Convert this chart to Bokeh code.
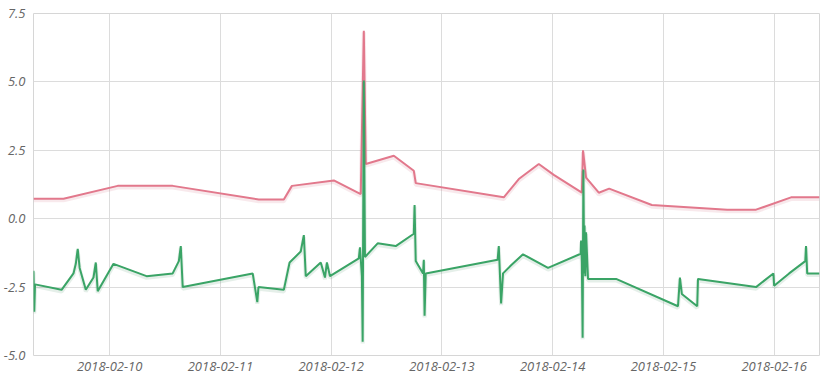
import pandas as pd
from bokeh.plotting import figure
from bokeh.models import ColumnDataSource, FixedTicker, DatetimeTickFormatter, NumeralTickFormatter, Range1d
from bokeh.transform import dodge
from bokeh.embed import file_html
from bokeh.resources import INLINE

# ---- data ----
red_times = ["2018-02-09 07:30", "2018-02-09 14:00", "2018-02-10 01:45", "2018-02-10 13:40",
             "2018-02-11 08:20", "2018-02-11 13:45", "2018-02-11 15:30", "2018-02-12 00:35",
             "2018-02-12 06:25", "2018-02-12 07:05", "2018-02-12 07:30", "2018-02-12 13:35",
             "2018-02-12 17:55", "2018-02-12 18:20", "2018-02-13 13:25", "2018-02-13 16:40",
             "2018-02-13 21:00", "2018-02-14 00:15", "2018-02-14 06:20", "2018-02-14 06:35",
             "2018-02-14 07:15", "2018-02-14 10:00", "2018-02-14 12:15", "2018-02-14 21:30",
             "2018-02-15 13:50", "2018-02-15 20:05", "2018-02-16 03:40", "2018-02-16 09:50"]
red_values = [0.73, 0.73, 1.2, 1.2, 0.7, 0.7, 1.2, 1.4, 0.9, 6.87, 2.0, 2.3, 1.75, 1.3,
              0.78, 1.45, 2.0, 1.6, 0.95, 2.5, 1.5, 0.95, 1.1, 0.5, 0.33, 0.33, 0.78, 0.78]

green_times = ["2018-02-09 07:30", "2018-02-09 07:40", "2018-02-09 07:50", "2018-02-09 13:35",
               "2018-02-09 16:10", "2018-02-09 16:40", "2018-02-09 17:05", "2018-02-09 17:30",
               "2018-02-09 18:50", "2018-02-09 20:30", "2018-02-09 21:00", "2018-02-09 21:25",
               "2018-02-10 00:50", "2018-02-10 08:00", "2018-02-10 13:40", "2018-02-10 15:00",
               "2018-02-10 15:25", "2018-02-10 15:50", "2018-02-11 07:00", "2018-02-11 08:00",
               "2018-02-11 08:15", "2018-02-11 13:45", "2018-02-11 15:00", "2018-02-11 17:25",
               "2018-02-11 18:05", "2018-02-11 18:30", "2018-02-11 21:45", "2018-02-11 22:40",
               "2018-02-11 23:05", "2018-02-11 23:45", "2018-02-12 06:00", "2018-02-12 06:15",
               "2018-02-12 06:40", "2018-02-12 06:50", "2018-02-12 07:05", "2018-02-12 07:20",
               "2018-02-12 10:05", "2018-02-12 14:00", "2018-02-12 17:55", "2018-02-12 18:05",
               "2018-02-12 18:20", "2018-02-12 19:55", "2018-02-12 20:05", "2018-02-12 20:15",
               "2018-02-12 20:30", "2018-02-13 12:05", "2018-02-13 12:20", "2018-02-13 12:50",
               "2018-02-13 13:15", "2018-02-13 15:00", "2018-02-13 17:35", "2018-02-13 23:00",
               "2018-02-14 06:05", "2018-02-14 06:10", "2018-02-14 06:20", "2018-02-14 06:30",
               "2018-02-14 06:40", "2018-02-14 06:50", "2018-02-14 06:55", "2018-02-14 07:05",
               "2018-02-14 07:15", "2018-02-14 07:40", "2018-02-14 13:45", "2018-02-15 03:10",
               "2018-02-15 03:35", "2018-02-15 04:00", "2018-02-15 07:20", "2018-02-15 07:30",
               "2018-02-15 20:05", "2018-02-15 23:50", "2018-02-16 00:00", "2018-02-16 03:15",
               "2018-02-16 06:45", "2018-02-16 06:55", "2018-02-16 07:10", "2018-02-16 09:50"]
green_values = [-1.9, -3.4, -2.4, -2.6, -2.0, -1.65, -1.1, -1.8, -2.6, -2.15, -1.6, -2.65,
                -1.65, -2.1, -2.0, -1.55, -1.0, -2.5, -2.0, -3.05, -2.5, -2.6, -1.6, -1.2,
                -0.6, -2.1, -1.6, -2.15, -1.6, -2.1, -1.45, -1.05, -2.1, -4.5, 5.05, -1.4,
                -0.9, -1.0, -0.55, 0.5, -1.55, -2.0, -1.5, -3.55, -2.0, -1.5, -1.0, -3.1,
                -2.0, -1.7, -1.3, -1.8, -1.28, -0.8, -1.6, -4.35, 1.8, -2.0, -0.25, -2.1,
                -0.5, -2.2, -2.2, -3.2, -2.15, -2.75, -3.2, -2.2, -2.5, -2.0, -2.45, -2.0,
                -1.55, -1.0, -2.0, -2.0]

x_tick_labels = ["2018-02-10", "2018-02-11", "2018-02-12", "2018-02-13",
                 "2018-02-14", "2018-02-15", "2018-02-16"]
y_ticks = [-5.0, -2.5, 0.0, 2.5, 5.0, 7.5]
x_start, x_end = "2018-02-09 07:30", "2018-02-16 09:50"

# ---- build ----
red_src = ColumnDataSource(dict(t=pd.to_datetime(red_times), y=red_values))
green_src = ColumnDataSource(dict(t=pd.to_datetime(green_times), y=green_values))

p = figure(width=825, height=380, x_axis_type="datetime",
           output_backend="svg", toolbar_location=None,
           x_range=Range1d(pd.Timestamp(x_start), pd.Timestamp(x_end)),
           y_range=Range1d(min(y_ticks), max(y_ticks)),
           min_border_left=33, min_border_right=6, min_border_top=13, min_border_bottom=25)

p.background_fill_color = "white"
p.border_fill_color = "white"
p.outline_line_color = "#d6d6d6"
p.outline_line_width = 1

shadow_red = "#c9485f"
shadow_green = "#2a7a4a"
p.line("t", dodge("y", -0.06, range=p.y_range), source=red_src,
       line_color=shadow_red, line_width=4, line_alpha=0.12)
p.line("t", "y", source=red_src, line_color="#e2788c", line_width=2)
p.line("t", dodge("y", -0.06, range=p.y_range), source=green_src,
       line_color=shadow_green, line_width=4, line_alpha=0.12)
p.line("t", "y", source=green_src, line_color="#3aa466", line_width=2)

tick_ms = [pd.Timestamp(d).value // 10**6 for d in x_tick_labels]
p.xaxis.ticker = FixedTicker(ticks=tick_ms)
p.xaxis.formatter = DatetimeTickFormatter(days="%Y-%m-%d", months="%Y-%m-%d",
                                          hours="%Y-%m-%d", years="%Y-%m-%d")
p.yaxis.ticker = FixedTicker(ticks=y_ticks)
p.yaxis.formatter = NumeralTickFormatter(format="0.0")

for ax in (p.xaxis[0], p.yaxis[0]):
    ax.axis_line_color = None
    ax.major_tick_line_color = None
    ax.minor_tick_line_color = None
    ax.major_tick_out = 0
    ax.major_tick_in = 0
    ax.minor_tick_out = 0
    ax.major_label_text_font = "Open Sans"
    ax.major_label_text_font_size = "13px"
    ax.major_label_text_font_style = "italic"
    ax.major_label_text_color = "#666666"
p.xaxis.major_label_standoff = 6
p.yaxis.major_label_standoff = 8

p.xgrid.grid_line_color = "#dcdcdc"
p.ygrid.grid_line_color = "#dcdcdc"
p.xgrid.ticker = p.xaxis.ticker
p.ygrid.ticker = p.yaxis.ticker

open("out.html", "w").write(file_html(p, INLINE))
